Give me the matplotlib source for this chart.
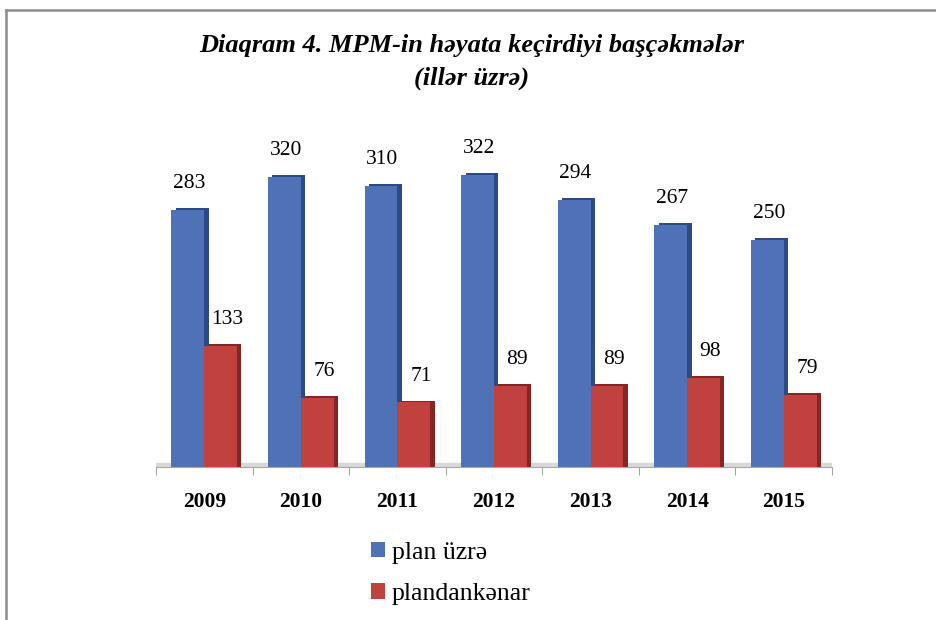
import numpy as np
import matplotlib.pyplot as plt
from matplotlib.lines import Line2D

years = ['2009', '2010', '2011', '2012', '2013', '2014', '2015']
plan = [283, 320, 310, 322, 294, 267, 250]
outside = [133, 76, 71, 89, 89, 98, 79]
names = ['plan üzrə', 'plandankənar']

plt.rcParams['font.family'] = ['Liberation Serif', 'DejaVu Serif']

blue, blue_dk = '#4f72b6', '#2c4a85'
red, red_dk = '#c0413e', '#862624'

fig = plt.figure(figsize=(9.37, 6.2), dpi=100)
ax = fig.add_axes([0.1665, 0.247, 0.7215, 0.512])

x = np.arange(len(years))
w = 0.34
dx, dy = 0.045, 2.0   # fake 3d depth

ax.axhspan(0, 4, color='#d8d8d8', zorder=0)
ax.bar(x - w/2 + dx, np.array(plan) + dy, w, color=blue_dk, zorder=1)
ax.bar(x + w/2 + dx, np.array(outside) + dy, w, color=red_dk, zorder=1)
b1 = ax.bar(x - w/2, plan, w, color=blue, zorder=2, label=names[0])
b2 = ax.bar(x + w/2, outside, w, color=red, zorder=2, label=names[1])

for xi, v in zip(x, plan):
    ax.annotate(str(v), (xi - w/2, v), xytext=(1, 19), textcoords='offset points',
                ha='center', va='center', fontsize=15.5)
for xi, v in zip(x, outside):
    ax.annotate(str(v), (xi + w/2, v), xytext=(5, 19), textcoords='offset points',
                ha='center', va='center', fontsize=15.5)

ax.set_xlim(-0.5, len(years) - 0.5)
ax.set_ylim(0, 350)
ax.set_xticks(x)
ax.set_xticklabels(years, fontsize=15.5, fontweight='bold')
ax.set_xticks(np.arange(len(years) + 1) - 0.5, minor=True)
ax.tick_params(axis='x', which='major', length=0, pad=18)
ax.tick_params(axis='x', which='minor', length=6, color='#909090', direction='out')
ax.set_yticks([])
for s in ['top', 'right', 'left']:
    ax.spines[s].set_visible(False)
ax.spines['bottom'].set_color('#a8a8a8')

fig.text(0.503, 0.927, 'Diaqram 4. MPM-in həyata keçirdiyi başçəkmələr',
         ha='center', va='center', fontsize=19, fontweight='bold', style='italic')
fig.text(0.503, 0.873, '(illər üzrə)', ha='center', va='center',
         fontsize=19, fontweight='bold', style='italic')

fig.legend(handles=[b1, b2], loc='upper left', bbox_to_anchor=(0.385, 0.143),
           frameon=False, fontsize=18.5, handlelength=0.55, handleheight=0.55,
           handletextpad=0.25, labelspacing=0.75, borderaxespad=0)

fig.add_artist(Line2D([0.0065, 0.0065], [0, 0.984], color='#8c8c8c', lw=1.8))
fig.add_artist(Line2D([0.0065, 1], [0.984, 0.984], color='#8c8c8c', lw=1.8))

fig.savefig('out.png', dpi=100)
